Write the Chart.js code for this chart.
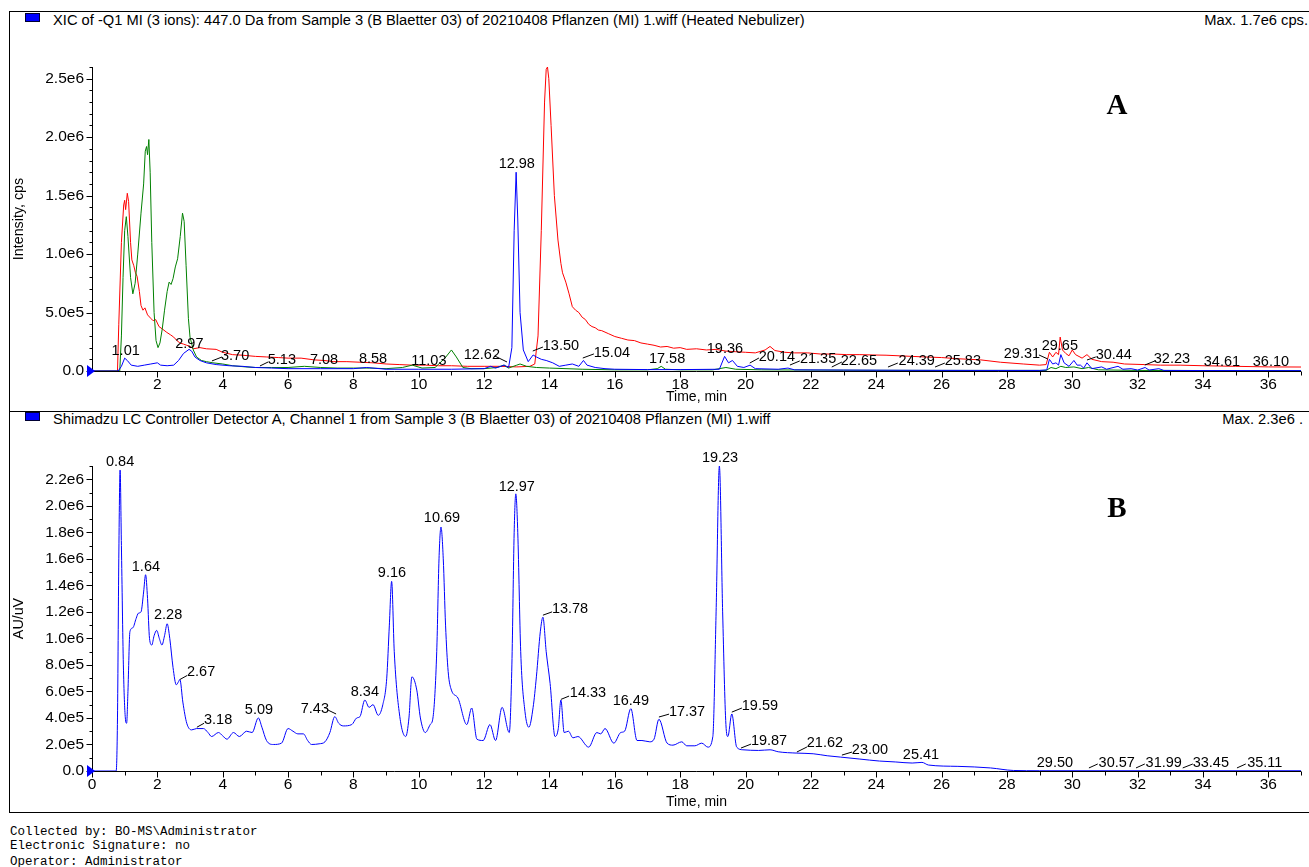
<!DOCTYPE html>
<html><head><meta charset="utf-8">
<script src="https://cdn.jsdelivr.net/npm/chart.js@4.4.1/dist/chart.umd.min.js"></script>
<style>
html,body{margin:0;padding:0;background:#fff;}
body{width:1309px;height:867px;position:relative;overflow:hidden;font-family:"Liberation Sans",Arial,sans-serif;color:#000;}
.abs{position:absolute;white-space:nowrap;}
#frame{position:absolute;left:9px;top:11px;width:1320px;height:800px;border:1px solid #000;border-right:none;}
#mid{position:absolute;left:9px;top:411px;width:1320px;height:0;border-top:1px solid #000;}
.sq{position:absolute;width:13px;height:7px;background:#0000ff;border:1px solid #000033;}
.ttl{font-size:14.7px;line-height:16px;}
.big{font-family:"Liberation Serif","Times New Roman",serif;font-weight:bold;font-size:29px;line-height:29px;transform:translateX(-50%);}
.mono{font-family:"Liberation Mono","Courier New",monospace;font-size:12.5px;line-height:14px;left:10px;}
canvas{position:absolute;left:0;}
</style></head>
<body>
<div id="frame"></div>
<div id="mid"></div>
<div class="sq" style="left:25px;top:13px;"></div>
<div class="abs ttl" style="left:53px;top:12px;">XIC of -Q1 MI (3 ions): 447.0 Da from Sample 3 (B Blaetter 03) of 20210408 Pflanzen (MI) 1.wiff (Heated Nebulizer)</div>
<div class="abs ttl" style="right:1px;top:12px;">Max. 1.7e6 cps.</div>
<div class="sq" style="left:25px;top:412px;"></div>
<div class="abs ttl" style="left:53px;top:411px;">Shimadzu LC Controller Detector A, Channel 1 from Sample 3 (B Blaetter 03) of 20210408 Pflanzen (MI) 1.wiff</div>
<div class="abs ttl" style="right:6px;top:411px;">Max. 2.3e6 .</div>
<canvas id="c1" width="1309" height="411" style="top:0px;"></canvas>
<canvas id="c2" width="1309" height="401" style="top:411px;"></canvas>
<div class="abs big" style="left:1117px;top:90px;">A</div>
<div class="abs big" style="left:1117px;top:493px;">B</div>
<div class="abs mono" style="top:825px;">Collected by: BO-MS\Administrator</div>
<div class="abs mono" style="top:839px;">Electronic Signature: no</div>
<div class="abs mono" style="top:855px;">Operator: Administrator</div>
<script>
// ---------- Panel A: XIC traces (time in min, intensity in cps) ----------
const xicRedT = [0,0.78,0.82,0.9,0.97,1.0,1.03,1.08,1.12,1.18,1.22,1.28,1.33,1.38,1.45,1.5,1.56,1.62,1.7,1.8,1.87,1.95,2.05,2.15,2.29,2.4,2.5,2.6,2.69,2.8,2.9,3.0,3.1,3.3,3.5,3.8,4.0,4.3,4.6,5.0,5.35,5.7,6.0,6.4,6.8,7.1,7.4,7.8,8.2,8.6,9.0,9.4,9.8,10.2,10.6,11.0,11.5,12.0,12.5,13.0,13.4,13.55,13.65,13.75,13.85,13.9,13.94,13.98,14.05,14.15,14.26,14.35,14.4,14.5,14.6,14.7,14.8,14.9,15.0,15.1,15.2,15.3,15.4,15.5,15.6,15.8,16.0,16.2,16.4,16.6,16.8,17.0,17.2,17.4,17.6,17.8,18.0,18.2,18.5,18.8,19.1,19.4,19.7,20.0,20.3,20.6,20.75,20.9,21.2,21.5,21.9,22.3,22.7,23.1,23.5,23.9,24.3,24.7,25.1,25.5,26.0,26.5,27.2,27.8,28.5,29.0,29.2,29.3,29.4,29.5,29.58,29.63,29.7,29.8,29.9,30.0,30.1,30.3,30.45,30.6,30.9,31.25,31.6,32.2,32.7,33.3,34.0,35.0,36.0,37.0];
const xicRedI = [0,0,4e5,1.1e6,1.42e6,1.46e6,1.38e6,1.52e6,1.45e6,1.1e6,9.5e5,9.0e5,8.4e5,8.1e5,6.8e5,5.6e5,5.2e5,5.4e5,4.8e5,4.5e5,4.3e5,4.4e5,3.8e5,3.6e5,3.3e5,3.1e5,2.9e5,2.6e5,2.4e5,2.3e5,2.2e5,2.1e5,1.9e5,2.0e5,1.9e5,1.85e5,1.6e5,1.4e5,1.35e5,1.25e5,1.2e5,1.15e5,1.1e5,1.1e5,9.5e4,9e4,8e4,8e4,7.5e4,7e4,6e4,5.5e4,5e4,5e4,4.5e4,4.5e4,4e4,4e4,4e4,3.5e4,4e4,6e4,3e5,1.2e6,2.3e6,2.58e6,2.6e6,2.5e6,2.1e6,1.5e6,1.12e6,9.2e5,8.4e5,7.6e5,6.6e5,5.5e5,5.2e5,5.0e5,4.6e5,4.4e5,4.0e5,3.8e5,3.7e5,3.5e5,3.45e5,3.2e5,2.95e5,2.8e5,2.65e5,2.6e5,2.4e5,2.3e5,2.2e5,2.05e5,2.1e5,1.95e5,2.0e5,1.85e5,1.9e5,1.8e5,1.85e5,1.7e5,1.65e5,1.6e5,1.55e5,1.8e5,2.1e5,1.75e5,1.6e5,1.55e5,1.55e5,1.45e5,1.45e5,1.4e5,1.4e5,1.37e5,1.35e5,1.3e5,1.25e5,1.2e5,1.15e5,1.05e5,9.5e4,7.5e4,6e4,5e4,5.5e4,1.6e5,1.2e5,1.6e5,1.4e5,2.9e5,1.8e5,1.5e5,1.3e5,1.8e5,1.4e5,1.1e5,1.4e5,1.0e5,8e4,7.5e4,6e4,5.5e4,5e4,5e4,4.5e4,4e4,3.5e4,3.4e4];

const xicGreenT = [0,0.85,0.9,0.95,1.0,1.05,1.1,1.18,1.25,1.32,1.4,1.5,1.58,1.63,1.67,1.7,1.74,1.78,1.83,1.9,1.96,2.02,2.08,2.15,2.22,2.3,2.36,2.42,2.48,2.55,2.62,2.7,2.77,2.82,2.88,2.95,3.0,3.1,3.2,3.35,3.5,3.7,4.0,4.3,4.7,5.0,5.5,6.0,6.5,7.0,7.5,8.0,8.5,9.0,9.5,9.8,10.1,10.5,10.8,11.0,11.15,11.35,11.6,12.0,12.4,12.6,12.75,13.0,13.1,13.3,13.6,14.0,15.0,16.0,17.0,17.3,17.42,17.55,18.0,19.0,19.4,19.7,20.5,22.0,24.0,26.0,28.0,29.2,29.35,29.5,29.65,29.8,30.05,30.3,30.5,30.8,32.0,37.0];
const xicGreenI = [0,0,3e5,8e5,1.2e6,1.32e6,1.15e6,8e5,6.6e5,7.5e5,1.0e6,1.35e6,1.6e6,1.88e6,1.92e6,1.85e6,1.98e6,1.7e6,1.1e6,5e5,2.6e5,2.0e5,2.4e5,3.6e5,5.2e5,6.8e5,7.6e5,7.4e5,7.9e5,8.9e5,9.6e5,1.15e6,1.35e6,1.28e6,9e5,4.5e5,2.9e5,1.8e5,1.2e5,9e4,8e4,7e4,6e4,4.5e4,3.5e4,3e4,3e4,3e4,4e4,3e4,2.5e4,2.5e4,2.5e4,2e4,3e4,5e4,2.5e4,3e4,1.1e5,1.8e5,1.2e5,3e4,2e4,2e4,3e4,5e4,2.5e4,5e4,6e4,4e4,3e4,2.5e4,1.5e4,1e4,1e4,2e4,4e4,1.5e4,1e4,1e4,3e4,1.5e4,1e4,8e3,6e3,5e3,5e3,5e3,3e4,2e4,4e4,3e4,3.5e4,2e4,3e4,1e4,5e3,3e3];

const xicBlueT = [0,0.8,0.9,1.0,1.08,1.2,1.4,1.6,1.8,2.0,2.1,2.3,2.5,2.65,2.8,2.97,3.05,3.15,3.3,3.5,3.8,4.2,4.6,5.0,5.5,6.0,7.0,8.0,8.4,8.6,9.0,10.0,11.0,12.0,12.2,12.35,12.62,12.75,12.85,12.92,12.98,13.03,13.1,13.2,13.35,13.5,13.6,13.75,13.9,14.1,14.3,14.5,14.7,14.9,15.04,15.15,15.4,15.7,16.0,17.0,18.0,19.2,19.36,19.48,19.6,19.75,19.95,20.14,20.3,21.0,21.3,21.5,23.0,25.0,27.0,29.0,29.22,29.3,29.4,29.5,29.58,29.65,29.75,29.9,30.05,30.15,30.25,30.35,30.45,30.6,30.9,31.05,31.4,31.55,31.8,32.0,32.23,32.35,32.65,32.8,34.0,37.0];
const xicBlueI = [0,0,4e4,1.1e5,9e4,5e4,4e4,5e4,6e4,7e4,5e4,4.5e4,5e4,9e4,1.5e5,1.85e5,1.7e5,1.2e5,9e4,7e4,5.5e4,4.5e4,4e4,3e4,2.5e4,2e4,2e4,2e4,3e4,2.5e4,1.5e4,1.5e4,1.5e4,2e4,4e4,2.5e4,5e4,3e4,2e5,1.2e6,1.7e6,1.3e6,5e5,1.8e5,8e4,1.37e5,1.2e5,1.0e5,9e4,7e4,4e4,5e4,6e4,4e4,9e4,5e4,3e4,2e4,1.5e4,1.2e4,1.2e4,1.5e4,1.25e5,7e4,9e4,4e4,3e4,5e4,2e4,1.5e4,2.5e4,1e4,8e3,6e3,5e3,5e3,1e4,1e5,6e4,7e4,5e4,1.4e5,7e4,4e4,9e4,5e4,5e4,2.5e4,7e4,2e4,3.5e4,1.5e4,4e4,1.5e4,2e4,8e3,3e4,8e3,2e4,5e3,4e3,3e3];

// ---------- Panel B: UV trace ----------
const uvT = [0,0.74,0.78,0.82,0.86,0.9,0.96,1.02,1.06,1.1,1.16,1.25,1.35,1.42,1.5,1.58,1.64,1.7,1.76,1.83,1.9,1.98,2.06,2.14,2.22,2.3,2.38,2.48,2.58,2.64,2.69,2.78,2.9,3.05,3.2,3.41,3.55,3.66,3.87,4.0,4.13,4.33,4.51,4.73,4.9,5.09,5.2,5.34,5.55,5.8,6.0,6.15,6.3,6.47,6.6,6.72,6.95,7.13,7.28,7.43,7.55,7.69,7.95,8.1,8.2,8.35,8.48,8.6,8.76,8.9,9.02,9.1,9.17,9.25,9.42,9.6,9.7,9.79,9.94,10.05,10.2,10.35,10.44,10.55,10.62,10.68,10.75,10.82,10.9,11.0,11.2,11.47,11.62,11.78,11.97,12.18,12.35,12.55,12.77,12.85,12.92,12.97,13.03,13.12,13.25,13.37,13.5,13.6,13.72,13.8,13.9,14.02,14.17,14.27,14.35,14.45,14.58,14.72,14.87,15.2,15.45,15.57,15.7,15.97,16.18,16.3,16.49,16.68,16.83,17.07,17.2,17.35,17.6,17.78,18.05,18.2,18.45,18.66,18.85,19.0,19.1,19.2,19.3,19.4,19.46,19.58,19.73,19.92,20.4,20.75,21.0,21.57,22.07,22.5,22.9,23.5,24.1,24.6,25.1,25.4,25.6,26.5,27.5,28.2,29.0,37.0];
const uvI = [0,0,4e5,1.6e6,2.27e6,1.7e6,8e5,4e5,3.6e5,6e5,1.05e6,1.08e6,1.15e6,1.19e6,1.2e6,1.35e6,1.48e6,1.3e6,1.0e6,9.5e5,1.02e6,1.06e6,1.0e6,9.5e5,1.02e6,1.11e6,1.0e6,7.8e5,6.5e5,6.7e5,6.9e5,5.2e5,3.6e5,3.1e5,3.2e5,3.2e5,2.9e5,2.6e5,2.9e5,2.65e5,2.4e5,2.9e5,2.6e5,3.0e5,2.9e5,4.0e5,3.3e5,2.3e5,2.0e5,2.1e5,3.2e5,3.0e5,2.8e5,2.8e5,2.3e5,2.0e5,2.05e5,2.2e5,2.9e5,4.1e5,3.6e5,3.4e5,3.5e5,4.0e5,4.1e5,5.35e5,4.8e5,5.0e5,4.2e5,5.0e5,7.0e5,1.1e6,1.43e6,9e5,4.1e5,2.6e5,4e5,7.1e5,6.1e5,4e5,2.9e5,3.5e5,4.1e5,9e5,1.6e6,1.84e6,1.6e6,1.1e6,7.5e5,6.1e5,5.5e5,3.5e5,4.75e5,2.4e5,2.3e5,3.5e5,2.3e5,4.8e5,2.9e5,8e5,1.8e6,2.09e6,1.8e6,9e5,4.5e5,3.3e5,4.8e5,7.1e5,1.05e6,1.16e6,9e5,6.6e5,2.6e5,3.2e5,5.35e5,2.9e5,3.0e5,2.5e5,2.6e5,1.8e5,2.9e5,2.8e5,3.2e5,2.1e5,2.9e5,3.0e5,4.7e5,2.3e5,2.3e5,2.2e5,2.4e5,3.9e5,2.1e5,1.95e5,2.2e5,1.9e5,1.9e5,2.1e5,1.8e5,2.6e5,1.2e6,2.3e6,1.2e6,3.5e5,2.6e5,4.3e5,1.8e5,1.6e5,1.55e5,1.6e5,1.45e5,1.35e5,1.3e5,1.15e5,1.05e5,9e4,7.5e4,6.8e4,6e4,6.5e4,4.5e4,3.5e4,2.3e4,4e3,2e3,2e3];

// ---------- Axis ticks ----------
const topXTicks = [2,4,6,8,10,12,14,16,18,20,22,24,26,28,30,32,34,36];
const botXTicks = [0,2,4,6,8,10,12,14,16,18,20,22,24,26,28,30,32,34,36];
const xMinorTicks = [1,3,5,7,9,11,13,15,17,19,21,23,25,27,29,31,33,35,37];
const topYTicks = [0,5e5,1e6,1.5e6,2e6,2.5e6];
const topYLabels = ['0.0','5.0e5','1.0e6','1.5e6','2.0e6','2.5e6'];
const topYMinor = [1e5,2e5,3e5,4e5,6e5,7e5,8e5,9e5,1.1e6,1.2e6,1.3e6,1.4e6,1.6e6,1.7e6,1.8e6,1.9e6,2.1e6,2.2e6,2.3e6,2.4e6,2.6e6];
const botYTicks = [0,2e5,4e5,6e5,8e5,1e6,1.2e6,1.4e6,1.6e6,1.8e6,2e6,2.2e6];
const botYLabels = ['0.0','2.0e5','4.0e5','6.0e5','8.0e5','1.0e6','1.2e6','1.4e6','1.6e6','1.8e6','2.0e6','2.2e6'];
const botYMinor = [1e5,3e5,5e5,7e5,9e5,1.1e6,1.3e6,1.5e6,1.7e6,1.9e6,2.1e6,2.3e6];

// ---------- Peak labels (text centre in data units) ----------
const topPeakText = ['1.01','2.97','3.70','5.13','7.08','8.58','11.03','12.62','12.98','13.50','15.04','17.58','19.36','20.14','21.35','22.65','24.39','25.83','29.31','29.65','30.44','32.23','34.61','36.10'];
const topPeakT = [1.03,2.98,4.38,5.81,7.10,8.60,10.31,11.93,13.0,14.35,15.91,17.60,19.37,20.96,22.22,23.47,25.24,26.65,28.46,29.62,31.27,33.05,34.58,36.08];
const topPeakI = [1.67e5,2.35e5,1.28e5,9.4e4,9.4e4,1.03e5,8.6e4,1.37e5,1.77e6,2.14e5,1.54e5,1.03e5,1.88e5,1.2e5,1.03e5,8.6e4,8.6e4,8.6e4,1.46e5,2.14e5,1.37e5,1.03e5,7.7e4,7.7e4];
const topLeaders = [[3.67,8.6e4,3.98,1.2e5],[5.14,4.3e4,5.39,7.7e4],[12.33,1.28e5,12.70,7.7e4],[13.49,1.71e5,13.80,2.05e5],[15.02,1.11e5,15.36,1.46e5],[20.13,6.8e4,20.41,1.11e5],[21.36,5.1e4,21.66,8.6e4],[22.64,3.4e4,22.95,7.7e4],[24.36,3.4e4,24.66,6.8e4],[25.80,3.4e4,26.10,6.8e4],[28.98,1.37e5,29.25,1.03e5],[30.45,9.4e4,30.72,1.2e5],[32.22,5.1e4,32.53,8.6e4]];

const botPeakText = ['0.84','1.64','2.28','2.67','3.18','5.09','7.43','8.34','9.16','10.69','12.97','13.78','14.33','16.49','17.37','19.23','19.59','19.87','21.62','23.00','25.41','29.50','30.57','31.99','33.45','35.11'];
const botPeakT = [0.86,1.65,2.33,3.34,3.86,5.11,6.82,8.35,9.18,10.71,13.0,14.63,15.18,16.49,18.21,19.22,20.44,20.72,22.43,23.81,25.37,29.47,31.36,32.80,34.24,35.89];
const botPeakI = [2.33e6,1.54e6,1.18e6,7.46e5,3.84e5,4.6e5,4.67e5,5.95e5,1.49e6,1.91e6,2.14e6,1.22e6,5.88e5,5.27e5,4.44e5,2.36e6,4.9e5,2.26e5,2.1e5,1.58e5,1.2e5,6e4,6e4,6e4,6e4,6e4];
const botLeaders = [[2.69,6.9e5,2.91,7.2e5],[3.21,3.3e5,3.43,3.6e5],[7.22,4.6e5,7.47,4.3e5],[13.80,1.175e6,14.08,1.2e6],[14.35,5.4e5,14.60,5.65e5],[17.35,4.07e5,17.66,4.29e5],[19.58,4.44e5,19.89,4.75e5],[19.86,1.73e5,20.17,2.03e5],[21.57,1.43e5,21.88,1.81e5],[22.95,1.2e5,23.26,1.43e5],[30.51,2.3e4,30.78,5.3e4],[31.95,2.3e4,32.22,5.3e4],[33.38,2.3e4,33.69,5.3e4],[35.04,2.3e4,35.31,5.3e4]];

Chart.defaults.font.family = '"Liberation Sans", Arial, sans-serif';
Chart.defaults.font.size = 14;
Chart.defaults.color = '#000';

function pts(T, V){ return T.map((t,i)=>({x:t, y:V[i]})); }

const decor = {
  id:'decor',
  beforeDatasetsDraw(chart, args, o){
    const ctx = chart.ctx, xs = chart.scales.x, ys = chart.scales.y;
    const xl = Math.round(xs.getPixelForValue(0)) + 0.5;
    const yb = Math.round(ys.getPixelForValue(0)) + 0.5;
    ctx.save();
    ctx.strokeStyle = '#000'; ctx.lineWidth = 1;
    ctx.beginPath();
    ctx.moveTo(xl, Math.round(ys.top)); ctx.lineTo(xl, yb); ctx.lineTo(Math.round(xs.right), yb);
    o.yMajor.forEach(v=>{ const y = Math.round(ys.getPixelForValue(v)) + 0.5; ctx.moveTo(xl-6, y); ctx.lineTo(xl, y); });
    o.yMinor.forEach(v=>{ const y = Math.round(ys.getPixelForValue(v)) + 0.5; ctx.moveTo(xl-3, y); ctx.lineTo(xl, y); });
    o.xMajor.forEach(v=>{ const x = Math.round(xs.getPixelForValue(v)) + 0.5; ctx.moveTo(x, yb); ctx.lineTo(x, yb+6); });
    o.xMinor.forEach(v=>{ const x = Math.round(xs.getPixelForValue(v)) + 0.5; ctx.moveTo(x, yb); ctx.lineTo(x, yb+4); });
    ctx.stroke();
    ctx.restore();
  },
  afterDatasetsDraw(chart, args, o){
    const ctx = chart.ctx, xs = chart.scales.x, ys = chart.scales.y;
    ctx.save();
    ctx.font = '14.5px "Liberation Sans", Arial, sans-serif';
    ctx.fillStyle = '#000'; ctx.textAlign = 'center'; ctx.textBaseline = 'middle';
    o.text.forEach((s,i)=>ctx.fillText(s, xs.getPixelForValue(o.tx[i]), ys.getPixelForValue(o.ty[i])));
    ctx.strokeStyle = '#000'; ctx.lineWidth = 1;
    ctx.beginPath();
    o.leaders.forEach(L=>{
      ctx.moveTo(xs.getPixelForValue(L[0]), ys.getPixelForValue(L[1]));
      ctx.lineTo(xs.getPixelForValue(L[2]), ys.getPixelForValue(L[3]));
    });
    ctx.stroke();
    const x0 = xs.getPixelForValue(0), y0 = ys.getPixelForValue(0);
    ctx.fillStyle = '#0000ff';
    ctx.beginPath(); ctx.moveTo(x0-5, y0-6); ctx.lineTo(x0+3, y0); ctx.lineTo(x0-5, y0+6); ctx.closePath(); ctx.fill();
    ctx.restore();
  }
};

function makeChart(id, datasets, cfg){
  return new Chart(document.getElementById(id), {
    type:'line',
    data:{datasets},
    options:{
      responsive:false, animation:false, devicePixelRatio:1,
      layout:{padding:{top:cfg.padTop, right:8, left:0, bottom:0}},
      plugins:{legend:{display:false}, tooltip:{enabled:false}, decor:cfg.decor},
      elements:{point:{radius:0}, line:{borderWidth:1}},
      scales:{
        x:{type:'linear', min:0, max:37,
          grid:{display:false, drawTicks:false}, border:{display:false},
          ticks:{padding:cfg.xPad, autoSkip:false, maxRotation:0, font:{size:15.5}, callback:(v)=>String(v)},
          afterBuildTicks:s=>{ s.ticks = cfg.xTicks.map(v=>({value:v})); },
          afterFit:s=>{ s.height = cfg.xH; },
          title:{display:true, text:'Time, min', font:{size:14}, padding:{top:0, bottom:cfg.xTitlePad}}},
        y:{type:'linear', min:0, max:cfg.yMax,
          grid:{display:false, drawTicks:false}, border:{display:false},
          ticks:{padding:8, autoSkip:false, font:{size:15.5}, callback:(v,i)=>cfg.yLabels[i]},
          afterBuildTicks:s=>{ s.ticks = cfg.yTicks.map(v=>({value:v})); },
          afterFit:s=>{ s.width = 92; },
          title:{display:true, text:cfg.yTitle, font:{size:14.3}, padding:{top:10, bottom:0}}}
      }
    },
    plugins:[decor]
  });
}

makeChart('c1', [
  {data:pts(xicBlueT, xicBlueI), borderColor:'#0000ff', tension:0},
  {data:pts(xicGreenT, xicGreenI), borderColor:'#008000', tension:0},
  {data:pts(xicRedT, xicRedI), borderColor:'#ff0000', tension:0}
], {padTop:67, xH:40, xPad:4, xTitlePad:5, yMax:2.6e6, xTicks:topXTicks, yTicks:topYTicks, yLabels:topYLabels, yTitle:'Intensity, cps',
    decor:{yMajor:topYTicks, yMinor:topYMinor, xMajor:topXTicks, xMinor:xMinorTicks, text:topPeakText, tx:topPeakT, ty:topPeakI, leaders:topLeaders}});

makeChart('c2', [
  {data:pts(uvT, uvI), borderColor:'#0000ff', cubicInterpolationMode:'monotone'}
], {padTop:55, xH:41, xPad:4, xTitlePad:1, yMax:2.3e6, xTicks:botXTicks, yTicks:botYTicks, yLabels:botYLabels, yTitle:'AU/uV',
    decor:{yMajor:botYTicks, yMinor:botYMinor, xMajor:botXTicks, xMinor:xMinorTicks, text:botPeakText, tx:botPeakT, ty:botPeakI, leaders:botLeaders}});
</script>
</body></html>
